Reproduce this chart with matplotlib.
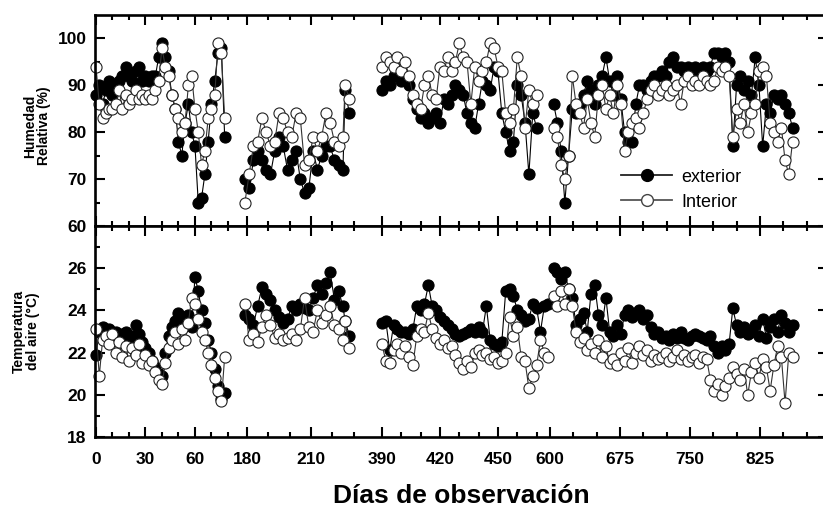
import numpy as np
import matplotlib.pyplot as plt
from matplotlib.lines import Line2D

nan = np.nan
plt.rcParams['font.family'] = ['Liberation Sans', 'DejaVu Sans']

# ---- datos por tramo de observacion ----
dias_1 = [0, 2, 4, 6, 8, 10, 12, 14, 16, 18, 20, 22, 24, 26, 28, 30, 32, 34, 36, 38,
          40, 42, 44, 46, 48, 50, 52, 54, 56, 58, 60, 62, 64, 66, 68, 70, 72, 74, 76, 78]
hr_ext_1 = [88, 90, 86, 89, 91, 88, 90, 91, 92, 94,
            92, 91, 93, 94, 91, 92, 91, 92, 92, 96,
            99, 96, 93, 88, 85, 78, 75, 82, 86, 80,
            77, 65, 66, 71, 78, 86, 91, 97, 98, 79]
hr_int_1 = [94, 86, 83, 84, 85, 85, 86, 89, 85, 88,
            86, 87, 89, 87, 88, 87, 88, 87, 89, 91,
            98, 94, 92, 88, 85, 83, 80, 82, 90, 92,
            85, 80, 73, 76, 83, 85, 88, 99, 97, 83]
t_ext_1 = [21.9, 23.0, 23.2, 23.0, 23.1, 22.8, 23.0, 22.7, 22.9, 23.0,
           22.6, 22.8, 23.3, 22.9, 22.5, 22.2, 22.0, 21.6, 21.3, 21.0,
           20.9, 22.0, 22.8, 23.2, 23.5, 23.9, 23.7, 23.5, 23.8, 23.2,
           25.6, 24.9, 24.0, 23.4, 22.6, 22.0, 21.2, 20.4, 19.8, 20.1]
t_int_1 = [23.1, 20.9, 22.6, 22.8, 22.4, 22.9, 22.0, 22.5, 21.8, 22.3,
           21.6, 22.2, 21.9, 22.4, 21.5, 21.9, 21.4, 21.6, 21.1, 20.7,
           20.5, 21.5, 22.2, 22.6, 23.0, 22.4, 23.1, 22.6, 23.4, 24.6,
           24.3, 23.6, 23.0, 22.6, 22.0, 21.4, 20.8, 20.2, 19.7, 21.8]

dias_2 = [179, 181, 183, 185, 187, 189, 191, 193, 195, 197, 199, 201, 203,
          205, 207, 209, 211, 213, 215, 217, 219, 221, 223, 225, 226, 228]
hr_ext_2 = [70, 68, 74, 76, 74, 72, 71, 76, 79, 77, 72, 74, 76,
            70, 67, 68, 76, 72, 75, 77, 77, 74, 73, 72, 89, 84]
hr_int_2 = [65, 71, 77, 78, 83, 80, 77, 78, 84, 83, 80, 79, 84,
            83, 73, 74, 79, 76, 79, 84, 82, 78, 77, 79, 90, 87]
t_ext_2 = [23.8, 23.6, 23.3, 24.2, 25.1, 24.8, 24.5, 24.0, 23.7, 23.4, 23.6, 24.2, 24.0,
           24.3, 24.1, 24.0, 24.6, 25.2, 24.8, 25.3, 25.8, 24.5, 24.9, 24.2, 23.5, 22.8]
t_int_2 = [24.3, 22.6, 22.9, 22.5, 23.2, 23.8, 23.3, 22.7, 22.9, 22.6, 22.7, 22.9, 22.6,
           23.1, 24.6, 23.2, 23.0, 24.0, 23.4, 23.8, 24.2, 23.3, 23.1, 22.6, 23.5, 22.2]

dias_3 = [390, 392, 394, 396, 398, 400, 402, 404, 406, 408, 410, 412, 414, 416, 418,
          420, 422, 424, 426, 428, 430, 432, 434, 436, 438, 440, 442, 444, 446, 448,
          450, 452, 454, 456, 458, 460, 462, 464, 466, 468, 470, 472, 474, 476]
hr_ext_3 = [89, 91, 90, 92, 93, 91, 92, 90, 87, 85, 83, 84, 82, 83, 84,
            82, 87, 86, 88, 90, 89, 88, 84, 82, 81, 86, 91, 90, 89, 94,
            93, 84, 80, 76, 78, 90, 88, 82, 71, 84, 81, nan, nan, nan]
hr_int_3 = [94, 96, 95, 94, 96, 93, 95, 92, 88, 86, 85, 90, 92, 88, 87,
            94, 93, 96, 93, 95, 99, 96, 95, 86, 94, 91, 93, 95, 99, 98,
            94, 93, 84, 82, 85, 96, 92, 81, 89, 86, 88, nan, nan, nan]
t_ext_3 = [23.4, 23.5, 22.1, 23.3, 23.1, 23.0, 23.0, 22.9, 23.1, 24.2, 24.0, 24.3, 25.2, 24.2, 24.0,
           23.7, 23.5, 23.3, 23.1, 22.9, 22.8, 22.9, 23.0, 23.1, 23.0, 23.2, 23.0, 24.2, 22.6, 22.4,
           22.3, 22.5, 24.9, 25.0, 24.7, 24.0, 23.8, 23.5, 23.6, 24.3, 24.1, 23.0, 24.2, 24.3]
t_int_3 = [22.4, 21.6, 21.5, 22.1, 22.4, 22.0, 22.3, 21.8, 21.4, 22.8, 23.1, 23.0, 23.9, 23.1, 22.7,
           22.4, 22.6, 22.2, 22.3, 21.9, 21.5, 21.2, 21.6, 21.3, 22.0, 22.1, 21.9, 22.0, 21.7, 21.8,
           21.5, 21.6, 22.0, 23.7, 22.8, 23.2, 21.8, 21.6, 20.3, 20.9, 21.4, 22.6, 22.0, 21.8]

dias_4 = [604, 608, 612, 616, 620, 624, 628, 632, 636, 640, 644, 648, 652,
          656, 660, 664, 668, 672, 676, 680, 684, 688, 692, 696, 700, 704,
          708, 712, 716, 720, 724, 728, 732, 736, 740, 744, 748, 752, 756,
          760, 764, 768, 772, 776, 780, 784, 788, 792, 796, 800, 804, 808,
          812, 816, 820, 824, 828, 832, 836, 840, 844, 848, 852, 856, 860]
hr_ext_4 = [86, 82, 76, 65, 75, 85, 84, 86, 88, 91, 89, 86, 90,
            92, 96, 91, 88, 92, 87, 80, 78, 78, 86, 90, 90, 89,
            91, 92, 92, 93, 92, 95, 96, 94, 94, 93, 94, 93, 94,
            93, 94, 93, 94, 97, 97, 96, 97, 95, 77, 90, 92, 89,
            91, 88, 96, 90, 77, 86, 84, 88, 87, 88, 86, 84, 81]
hr_int_4 = [81, 79, 73, 70, 75, 92, 86, 84, 81, 87, 82, 79, 88,
            90, 85, 88, 84, 90, 86, 76, 80, 82, 83, 81, 84, 87,
            89, 90, 88, 89, 90, 88, 89, 90, 86, 91, 92, 90, 91,
            90, 92, 91, 90, 91, 94, 93, 94, 92, 79, 85, 82, 86,
            80, 84, 86, 93, 94, 92, 82, 80, 78, 81, 74, 71, 78]
t_ext_4 = [26.0, 25.8, 25.5, 25.8, 25.0, 24.6, 23.3, 23.6, 23.9, 23.0, 24.8, 25.2, 23.8,
           23.3, 24.6, 23.0, 22.8, 23.3, 22.9, 23.8, 24.0, 23.7, 23.9, 24.0, 23.6, 23.8,
           23.2, 22.9, 23.0, 22.7, 22.8, 22.6, 22.9, 22.7, 23.0, 22.7, 22.6, 22.8, 22.9,
           22.8, 22.7, 22.6, 22.8, 22.3, 22.0, 22.3, 22.1, 22.4, 24.1, 23.3, 23.0, 23.2,
           22.9, 23.0, 23.3, 22.8, 23.6, 22.7, 23.2, 23.6, 23.0, 23.8, 23.4, 23.0, 23.3]
t_int_4 = [24.7, 24.2, 24.9, 24.3, 25.0, 24.2, 23.0, 22.5, 22.7, 22.1, 22.4, 22.0, 22.6,
           21.8, 22.3, 21.5, 21.7, 21.4, 22.0, 21.6, 22.2, 21.5, 22.0, 22.3, 21.9, 22.1,
           21.6, 21.9, 21.7, 21.8, 22.0, 21.6, 21.8, 22.1, 21.7, 21.9, 21.6, 21.8, 21.9,
           21.5, 21.8, 21.7, 20.7, 20.2, 20.5, 20.0, 20.4, 20.8, 21.3, 21.0, 20.7, 21.2,
           20.0, 21.1, 21.5, 20.8, 21.7, 21.3, 20.2, 21.4, 22.3, 21.8, 19.6, 22.0, 21.8]

tramos = [(dias_1, hr_ext_1, hr_int_1, t_ext_1, t_int_1),
          (dias_2, hr_ext_2, hr_int_2, t_ext_2, t_int_2),
          (dias_3, hr_ext_3, hr_int_3, t_ext_3, t_int_3),
          (dias_4, hr_ext_4, hr_int_4, t_ext_4, t_int_4)]

ticks_x = [0, 30, 60, 180, 210, 390, 420, 450, 600, 675, 750, 825]
ticks_x_menor = [10, 20, 40, 50, 70, 80, 190, 200, 220, 230, 400, 410, 430, 440,
                 460, 470, 625, 650, 700, 725, 775, 800, 850, 875]

# eje x partido: cada tramo tiene su propia escala
nodo_dia = [-20, 0, 84, 176, 240, 386, 390, 476, 600, 900, 1000]
nodo_pos = [63.0, 96.0, 234.6, 238.5, 375.0, 376.0, 382.0, 548.3, 550.0, 830.0, 923.3]


def adelante(d):
    return np.interp(d, nodo_dia, nodo_pos)


def atras(p):
    return np.interp(p, nodo_pos, nodo_dia)


fig = plt.figure(figsize=(8.23, 5.08), dpi=100, facecolor='white')
ax1 = fig.add_axes([95/823, 1 - 226/508, 733/823, 211/508])
ax2 = fig.add_axes([95/823, 1 - 437/508, 733/823, 211/508], sharex=ax1)

est_ext = dict(color='black', lw=0.8, marker='o', ms=8, mfc='black', mec='black',
               mew=0.8, clip_on=False)
est_int = dict(color='#333333', lw=0.8, marker='o', ms=8, mfc='white', mec='#222222',
               mew=0.8, clip_on=False)

for d, he, hi, te, ti in tramos:
    ax1.plot(d, he, **est_ext)
    ax2.plot(d, te, **est_ext)
for d, he, hi, te, ti in tramos:
    ax1.plot(d, hi, **est_int)
    ax2.plot(d, ti, **est_int)

for ax in (ax1, ax2):
    ax.set_xscale('function', functions=(adelante, atras))
    ax.set_xlim(-0.6, 898)
    ax.set_xticks(ticks_x)
    ax.set_xticks(ticks_x_menor, minor=True)
    ax.tick_params(which='both', direction='in', top=True, right=True, width=1.5)
    ax.tick_params(which='major', length=7.5)
    ax.tick_params(which='minor', length=3.8)
    for s in ax.spines.values():
        s.set_linewidth(1.9)

ax1.set_ylim(60, 105)
ax1.set_yticks([60, 70, 80, 90, 100])
ax1.set_yticks([65, 75, 85, 95], minor=True)
ax1.tick_params(labelbottom=False)

ax2.set_ylim(18, 28)
ax2.set_yticks([18, 20, 22, 24, 26])
ax2.set_yticks([19, 21, 23, 25, 27], minor=True)
ax2.tick_params(axis='x', pad=11)
ax1.tick_params(axis='y', pad=6)
ax2.tick_params(axis='y', pad=6)

for ax in (ax1, ax2):
    for lab in ax.get_xticklabels() + ax.get_yticklabels():
        lab.set_fontweight('bold')
        lab.set_fontsize(12.5)

manijas = [Line2D([], [], color='#222222', lw=1.3, marker='o', ms=8.5, mfc='black', mec='black'),
           Line2D([], [], color='#555555', lw=1.3, marker='o', ms=8.5, mfc='white', mec='#444444')]
ax1.legend(manijas, ['exterior', 'Interior'], loc='center left', bbox_to_anchor=(0.718, 0.172),
           frameon=False, fontsize=13, handlelength=2.8, handletextpad=0.5,
           labelspacing=0.45, borderpad=0, borderaxespad=0)

fig.text(37/823, 1 - 126/508, 'Humedad\nRelativa (%)', rotation=90, ha='center', va='center',
         fontsize=10, fontweight='bold', linespacing=1.05)
fig.text(26/823, 1 - 331/508, 'Temperatura\ndel aire (°C)', rotation=90, ha='center', va='center',
         fontsize=10, fontweight='bold', linespacing=1.05)
fig.text(461/823, 1 - 496/508, 'Días de observación', ha='center', va='center',
         fontsize=19, fontweight='bold')

fig.savefig('out.png', dpi=100)
